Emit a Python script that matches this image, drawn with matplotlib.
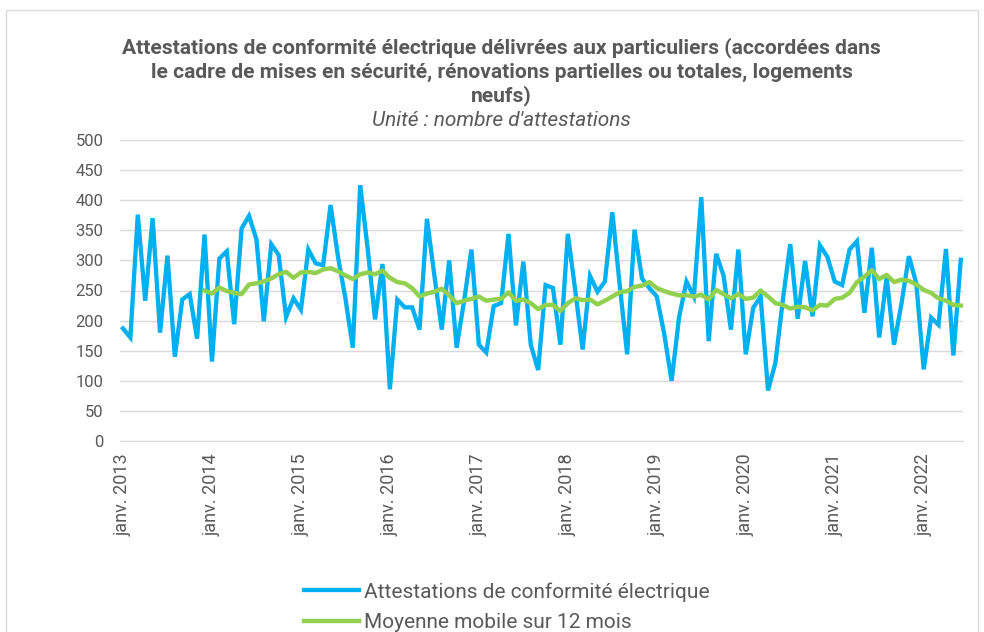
import matplotlib.pyplot as plt
from matplotlib.patches import Rectangle

plt.rcParams['font.family'] = ['Roboto', 'DejaVu Sans']

# monthly counts, janv. 2013 -> juin 2022
attestations = [187, 172, 376, 233, 370, 180, 308, 140, 235, 244, 170, 343,
                132, 303, 315, 194, 353, 374, 335, 199, 327, 309, 206, 237,
                218, 318, 295, 292, 392, 306, 237, 155, 425, 320, 202, 294,
                86, 235, 222, 222, 185, 369, 275, 185, 300, 155, 232, 318,
                160, 147, 224, 229, 344, 192, 298, 160, 118, 259, 254, 160,
                344, 250, 152, 274, 248, 265, 380, 259, 144, 351, 270, 254,
                240, 178, 100, 205, 265, 240, 405, 166, 311, 275, 185, 318,
                144, 221, 240, 84, 130, 234, 327, 203, 299, 207, 325, 306,
                265, 259, 318, 332, 213, 321, 172, 272, 160, 228, 307, 262,
                119, 205, 193, 319, 142, 301]

# 12-month moving average, starts déc. 2013
moyenne_mobile = [250, 245, 255, 249, 246, 244, 260, 262, 265, 270, 277, 281,
                  271, 280, 281, 279, 285, 287, 282, 275, 269, 277, 280, 277,
                  283, 271, 264, 262, 254, 240, 245, 248, 253, 242, 229, 233,
                  236, 240, 233, 235, 236, 247, 233, 235, 229, 219, 226, 226,
                  216, 229, 237, 234, 235, 227, 233, 240, 247, 249, 256, 258,
                  264, 254, 249, 245, 242, 242, 240, 243, 235, 251, 244, 237,
                  244, 236, 238, 250, 240, 229, 226, 220, 223, 222, 217, 226,
                  225, 236, 238, 246, 264, 273, 284, 269, 276, 264, 268, 266,
                  260, 251, 246, 237, 233, 226, 225]

tick_labels = ['janv. 2013', 'janv. 2014', 'janv. 2015', 'janv. 2016',
               'janv. 2017', 'janv. 2018', 'janv. 2019', 'janv. 2020',
               'janv. 2021', 'janv. 2022']

x_att = list(range(len(attestations)))
x_mm = list(range(11, 11 + len(moyenne_mobile)))

grey = '#595959'

fig = plt.figure(figsize=(9.84, 6.32), dpi=100)
ax = fig.add_axes([120/984, 1 - 441/632, 843/984, 301/632])

ax.plot(x_att, attestations, color='#00B0F0', lw=3.1,
        solid_joinstyle='miter', label='Attestations de conformité électrique')
ax.plot(x_mm, moyenne_mobile, color='#92D050', lw=3.2,
        solid_joinstyle='round', label='Moyenne mobile sur 12 mois')

ax.set_ylim(0, 500)
ax.set_yticks(range(0, 501, 50))
ax.set_xlim(-0.4, 113.3)
ax.set_xticks(range(0, 109, 12))
ax.set_xticklabels(tick_labels, rotation=90)
ax.grid(axis='y', color='#D9D9D9', lw=1)
ax.set_axisbelow(True)
for s in ['top', 'right', 'left']:
    ax.spines[s].set_visible(False)
ax.spines['bottom'].set_color('#D9D9D9')
ax.tick_params(axis='both', length=0, labelcolor=grey)
ax.tick_params(axis='y', pad=12, labelsize=12)
ax.tick_params(axis='x', pad=9, labelsize=13)

title_x = 501.5 / 984
title_lines = ['Attestations de conformité électrique délivrées aux particuliers (accordées dans',
               'le cadre de mises en sécurité, rénovations partielles ou totales, logements',
               'neufs)']
for line, y in zip(title_lines, [48, 72, 96]):
    fig.text(title_x, 1 - y/632, line, ha='center', va='center',
             fontsize=15.1, fontweight='bold', color=grey)
fig.text(title_x, 1 - 121/632, "Unité : nombre d'attestations",
         ha='center', va='center', fontsize=15, style='italic', color=grey)

fig.legend(loc='center left', bbox_to_anchor=(294/984, 1 - 607/632),
           frameon=False, fontsize=15, handlelength=2.6, handletextpad=0.28,
           labelspacing=0.55, borderpad=0, labelcolor=grey)

fig.patches.append(Rectangle((6/984, -0.1), 972/984, 1.1 - 10/632,
                             transform=fig.transFigure, fill=False,
                             edgecolor='#D9D9D9', lw=1))

fig.savefig('out.png', dpi=100)
